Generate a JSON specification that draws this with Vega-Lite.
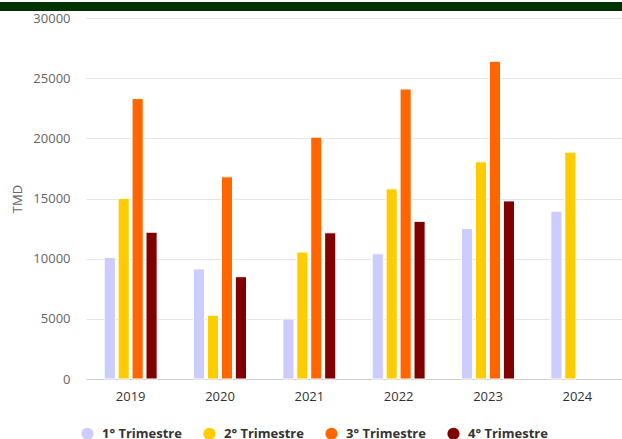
{
  "$schema": "https://vega.github.io/schema/vega-lite/v6.json",
  "padding": 0,
  "background": "white",
  "spacing": 7,
  "bounds": "flush",
  "center": true,
  "data": {
    "values": [
      {"year": "2019", "q": "1° Trimestre", "value": 10100},
      {"year": "2019", "q": "2° Trimestre", "value": 15000},
      {"year": "2019", "q": "3° Trimestre", "value": 23300},
      {"year": "2019", "q": "4° Trimestre", "value": 12200},
      {"year": "2020", "q": "1° Trimestre", "value": 9150},
      {"year": "2020", "q": "2° Trimestre", "value": 5300},
      {"year": "2020", "q": "3° Trimestre", "value": 16800},
      {"year": "2020", "q": "4° Trimestre", "value": 8500},
      {"year": "2021", "q": "1° Trimestre", "value": 5000},
      {"year": "2021", "q": "2° Trimestre", "value": 10550},
      {"year": "2021", "q": "3° Trimestre", "value": 20100},
      {"year": "2021", "q": "4° Trimestre", "value": 12150},
      {"year": "2022", "q": "1° Trimestre", "value": 10400},
      {"year": "2022", "q": "2° Trimestre", "value": 15800},
      {"year": "2022", "q": "3° Trimestre", "value": 24100},
      {"year": "2022", "q": "4° Trimestre", "value": 13100},
      {"year": "2023", "q": "1° Trimestre", "value": 12500},
      {"year": "2023", "q": "2° Trimestre", "value": 18050},
      {"year": "2023", "q": "3° Trimestre", "value": 26400},
      {"year": "2023", "q": "4° Trimestre", "value": 14800},
      {"year": "2024", "q": "1° Trimestre", "value": 13950},
      {"year": "2024", "q": "2° Trimestre", "value": 18850}
    ]
  },
  "resolve": {"scale": {"color": "independent"}, "legend": {"color": "independent"}},
  "vconcat": [
    {
      "width": 708,
      "height": 9,
      "view": {"fill": "#003300", "stroke": null},
      "mark": {"type": "text"},
      "encoding": {"text": {"value": ""}}
    },
    {
      "width": 536,
      "height": 361,
      "view": {"stroke": null},
      "mark": {"type": "bar", "stroke": "white", "strokeWidth": 1},
      "encoding": {
        "x": {
          "field": "year",
          "type": "nominal",
          "scale": {"paddingInner": 0.407, "paddingOuter": 0.2035},
          "axis": {
            "title": null,
            "labelAngle": 0,
            "ticks": false,
            "labelPadding": 11,
            "labelFont": "Open Sans",
            "labelFontSize": 13,
            "labelColor": "#333333",
            "domainColor": "#cccccc",
            "grid": false
          }
        },
        "xOffset": {
          "field": "q",
          "type": "nominal",
          "scale": {"domain": ["1° Trimestre", "2° Trimestre", "3° Trimestre", "4° Trimestre"], "paddingInner": 0.2, "paddingOuter": 0}
        },
        "y": {
          "field": "value",
          "type": "quantitative",
          "scale": {"domain": [0, 30000], "nice": false},
          "axis": {
            "title": "TMD",
            "values": [0, 5000, 10000, 15000, 20000, 25000, 30000],
            "format": "d",
            "domain": false,
            "ticks": false,
            "labelPadding": 16,
            "labelFont": "Open Sans",
            "labelFontSize": 13,
            "labelColor": "#666666",
            "titleFont": "Open Sans",
            "titleFontSize": 13,
            "titleFontWeight": "normal",
            "titleColor": "#666666",
            "titlePadding": 8,
            "gridColor": "#e6e6e6"
          }
        },
        "color": {
          "field": "q",
          "type": "nominal",
          "scale": {"domain": ["1° Trimestre", "2° Trimestre", "3° Trimestre", "4° Trimestre"], "range": ["#ccccff", "#ffcc00", "#ff6600", "#800000"]},
          "legend": {
            "title": null,
            "orient": "none",
            "direction": "horizontal",
            "legendX": -5,
            "legendY": 409,
            "symbolType": "circle",
            "symbolSize": 150,
            "symbolStrokeWidth": 0,
            "labelFont": "Open Sans",
            "labelFontSize": 13,
            "labelFontWeight": "bold",
            "labelColor": "#333333",
            "labelOffset": 8,
            "columnPadding": 21
          }
        }
      }
    }
  ]
}
